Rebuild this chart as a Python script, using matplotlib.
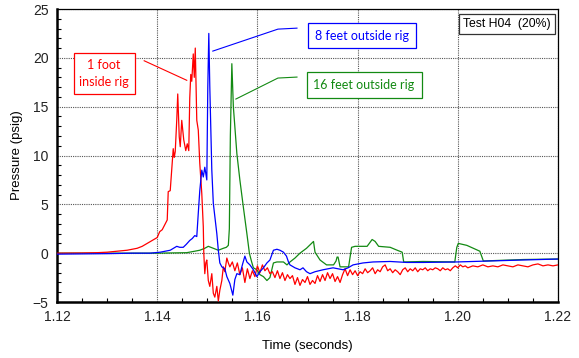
import matplotlib
matplotlib.use("Agg")
import matplotlib.pyplot as plt
from matplotlib.ticker import MultipleLocator, FormatStrFormatter

# ---- data ----
red_t = [1.1200, 1.1250, 1.1280, 1.1300, 1.1320, 1.1340, 1.1360, 1.1370, 1.1380, 1.1390,
         1.1400, 1.1405, 1.1410, 1.1415, 1.1420, 1.1422, 1.1426, 1.1429, 1.1432, 1.1434,
         1.1436, 1.1439, 1.1441, 1.1444, 1.1446, 1.1449, 1.1451, 1.1453, 1.1457, 1.1460,
         1.1463, 1.1465, 1.1467, 1.1469, 1.1472, 1.1474, 1.1476, 1.1479, 1.1482, 1.1485,
         1.1489, 1.1492, 1.1493, 1.1495, 1.1497, 1.1499, 1.1502, 1.1505, 1.1509, 1.1512,
         1.1515, 1.1519, 1.1522, 1.1525, 1.1529, 1.1532, 1.1535, 1.1539, 1.1542,
         1.1545, 1.1550, 1.1555, 1.1560, 1.1565, 1.1570, 1.1575, 1.1580, 1.1585, 1.1590,
         1.1595, 1.1600, 1.1605, 1.1610, 1.1615, 1.1620, 1.1625, 1.1630, 1.1635, 1.1640,
         1.1645, 1.1650, 1.1655, 1.1660, 1.1665, 1.1670, 1.1675, 1.1680, 1.1685, 1.1690,
         1.1695, 1.1700, 1.1705, 1.1710, 1.1715, 1.1720, 1.1725, 1.1730, 1.1735, 1.1740,
         1.1745, 1.1750, 1.1755, 1.1760, 1.1765, 1.1770, 1.1775, 1.1780, 1.1785, 1.1790,
         1.1795, 1.1800, 1.1805, 1.1810, 1.1815, 1.1820, 1.1825, 1.1830, 1.1835, 1.1840,
         1.1845, 1.1850, 1.1855, 1.1860, 1.1865, 1.1870, 1.1875, 1.1880, 1.1885, 1.1890,
         1.1895, 1.1900, 1.1905, 1.1910, 1.1915, 1.1920, 1.1925, 1.1930, 1.1935, 1.1940,
         1.1945, 1.1950, 1.1955, 1.1960, 1.1965, 1.1970, 1.1975, 1.1980, 1.1985, 1.1990,
         1.1995, 1.2000, 1.2005, 1.2010, 1.2015, 1.2020, 1.2030, 1.2040, 1.2050, 1.2060,
         1.2070, 1.2080, 1.2090, 1.2100, 1.2110, 1.2120, 1.2130, 1.2140, 1.2150, 1.2160,
         1.2170, 1.2180, 1.2190, 1.2200]
red_p = [0.0, 0.02, 0.05, 0.1, 0.2, 0.3, 0.5, 0.7, 1.0, 1.3,
         1.6, 2.2, 2.4, 2.9, 3.4, 6.3, 6.4, 8.5, 10.7, 9.8,
         10.4, 13.6, 16.3, 11.9, 10.9, 13.6, 12.6, 11.6, 10.5, 11.2,
         10.5, 15.9, 18.3, 17.6, 20.4, 18.0, 21.0, 13.6, 12.6, 9.2,
         6.1, 2.7, 0.0, -2.1, -1.0, -0.7, -2.8, -3.4, -2.1, -4.1,
         -4.5, -3.4, -4.9, -3.8, -2.8, -1.4, -1.9, -0.5, -1.0,
         -1.4, -0.9, -1.8, -1.0, -2.2, -1.5, -3.0, -1.6, -2.6, -1.8,
         -2.4, -1.3, -2.0, -1.2, -1.8, -1.5, -2.1, -1.9, -2.5, -1.8,
         -2.6, -2.0, -2.8, -2.2, -2.6, -2.3, -3.2, -2.5, -3.3, -2.7,
         -3.0, -2.4, -3.2, -2.8, -3.1, -2.3, -2.9, -2.2, -2.8, -2.0,
         -2.6, -2.1, -2.9, -2.4, -3.0, -2.2, -1.6, -2.3, -1.7, -2.2,
         -1.8, -2.3, -1.9, -2.1, -1.6, -2.0, -1.8, -1.5, -2.1, -1.7,
         -1.9, -1.4, -1.2, -1.8, -1.6, -2.0, -1.7, -1.9, -2.2, -1.7,
         -1.5, -1.9, -1.6, -1.8, -1.5, -1.9, -1.6, -1.7, -1.5, -1.8,
         -1.6, -1.7, -1.5, -1.6, -1.8, -1.5, -1.7, -1.6, -1.8, -1.5,
         -1.3, -1.5, -1.2, -1.4, -1.3, -1.5, -1.3, -1.4, -1.2, -1.4,
         -1.3, -1.4, -1.2, -1.3, -1.4, -1.2, -1.3, -1.4, -1.2, -1.1,
         -1.3, -1.2, -1.3, -1.2]

blue_t = [1.1200, 1.1300, 1.1350, 1.1386, 1.1406, 1.1426, 1.1439, 1.1445, 1.1452, 1.1458,
          1.1465, 1.1470, 1.1475, 1.1479, 1.1482, 1.1485, 1.1489, 1.1492, 1.1495, 1.1499,
          1.1501, 1.1503, 1.1505, 1.1509, 1.1512, 1.1519, 1.1522, 1.1525, 1.1529, 1.1535,
          1.1539, 1.1545, 1.1551, 1.1555, 1.1559, 1.1565, 1.1570, 1.1575, 1.1579, 1.1585,
          1.1592, 1.1599, 1.1605, 1.1612, 1.1619, 1.1625, 1.1632, 1.1639, 1.1645, 1.1652,
          1.1658, 1.1662, 1.1665, 1.1675, 1.1685, 1.1691, 1.1698, 1.1705, 1.1715, 1.1731,
          1.1751, 1.1771, 1.1781, 1.1791, 1.1811, 1.1831, 1.1865, 1.1898, 1.1931, 1.1998,
          1.2064, 1.2130, 1.2200]
blue_p = [-0.1, -0.05, 0.0, 0.0, 0.1, 0.3, 0.7, 0.6, 0.6, 0.9,
          1.3, 1.5, 1.8, 1.7, 4.1, 6.4, 8.5, 7.8, 8.8, 7.5,
          17.0, 22.5, 17.0, 8.5, 5.1, 2.0, 0.3, -1.0, -1.4, -1.6,
          -2.4, -3.1, -4.3, -2.7, -2.1, -2.2, -1.2, -0.3, -0.9, -1.2,
          -1.7, -2.4, -1.9, -1.5, -1.0, -0.7, 0.3, 0.4, 0.3, 0.1,
          -0.3, -0.9, -1.2, -1.5, -1.7, -1.5, -1.9, -2.1, -1.9, -1.7,
          -1.5, -1.7, -1.5, -1.2, -1.0, -0.9, -0.85, -0.95, -0.95, -0.9,
          -0.8, -0.7, -0.6]

green_t = [1.1200, 1.1400, 1.1459, 1.1475, 1.1485, 1.1495, 1.1502, 1.1507, 1.1512, 1.1517,
           1.1522, 1.1527, 1.1532, 1.1538, 1.1542, 1.1544, 1.1546, 1.1549, 1.1552, 1.1559,
           1.1565, 1.1572, 1.1579, 1.1584, 1.1588, 1.1592, 1.1599, 1.1605, 1.1612, 1.1619,
           1.1625, 1.1632, 1.1639, 1.1652, 1.1659, 1.1665, 1.1675, 1.1685, 1.1698, 1.1708,
           1.1712, 1.1715, 1.1725, 1.1738, 1.1752, 1.1757, 1.1759, 1.1761, 1.1765, 1.1782,
           1.1788, 1.1795, 1.1819, 1.1829, 1.1835, 1.1842, 1.1865, 1.1879, 1.1889, 1.1892,
           1.1931, 1.1994, 1.1998, 1.2001, 1.2018, 1.2044, 1.2051, 1.2131, 1.2200]
green_p = [0.0, 0.0, 0.05, 0.2, 0.3, 0.5, 0.7, 0.6, 0.5, 0.4,
           0.3, 0.4, 0.5, 0.6, 0.8, 2.5, 12.0, 19.4, 15.0, 10.2,
           7.5, 4.7, 2.0, 0.0, -0.8, -1.5, -1.7, -2.2, -2.4, -2.8,
           -2.5, -1.0, -0.9, -0.9, -1.2, -0.9, -0.5, 0.0, 0.5, 1.0,
           1.2, 0.1, -0.7, -1.2, -1.2, -0.8, -0.4, -0.4, -1.4, -1.4,
           0.6, 0.7, 0.7, 1.4, 1.2, 0.7, 0.6, 0.3, 0.1, -0.9,
           -0.85, -0.9, 0.6, 1.0, 0.8, 0.2, -0.8, -0.65, -0.6]

x_ticks = [1.12, 1.14, 1.16, 1.18, 1.20, 1.22]
y_ticks = [-5, 0, 5, 10, 15, 20, 25]

RED = "#ff0000"
BLUE = "#0000ff"
GREEN = "#138a13"

fig = plt.figure(figsize=(5.79, 3.58), dpi=100)
ax = fig.add_axes([57/579, 1 - 302/358, 501/579, 293/358])

ax.plot(red_t, red_p, color=RED, lw=0.9, zorder=3)
ax.plot(blue_t, blue_p, color=BLUE, lw=0.9, zorder=4)
ax.plot(green_t, green_p, color=GREEN, lw=0.9, zorder=2)

ax.set_xlim(1.12, 1.22)
ax.set_ylim(-5, 25)
ax.set_xticks(x_ticks)
ax.set_yticks(y_ticks)
ax.xaxis.set_major_formatter(FormatStrFormatter("%.2f"))
ax.xaxis.set_minor_locator(MultipleLocator(0.005))
ax.yaxis.set_minor_locator(MultipleLocator(1))
ax.tick_params(which="both", direction="in", top=False, right=False,
               labelsize=10, pad=6, labelcolor="#222222")
ax.tick_params(which="major", length=0)
ax.tick_params(which="minor", length=3, width=0.8)
for lab in ax.get_xticklabels() + ax.get_yticklabels():
    lab.set_fontfamily("Liberation Sans")

ax.grid(True, which="major", linestyle=(0, (1, 1)), color="#555555", lw=0.8)
ax.set_axisbelow(True)
for side in ["left", "bottom"]:
    ax.spines[side].set_linewidth(1.8)
for side in ["top", "right"]:
    ax.spines[side].set_linewidth(0.9)

ax.set_xlabel("Time (seconds)", fontsize=9.5, family="Liberation Sans", labelpad=11)
ax.set_ylabel("Pressure (psig)", fontsize=9.5, family="Liberation Sans", labelpad=7)

# annotations
ax.plot([1.1374, 1.1459], [19.7, 17.7], color=RED, lw=0.8)
ax.text(1.1294, 18.4, "1 foot\ninside rig", color=RED, fontsize=9, family="Lato",
        ha="center", va="center", linespacing=1.5,
        bbox=dict(boxstyle="square,pad=0.45", fc="white", ec=RED, lw=0.9))

ax.plot([1.1511, 1.1641, 1.1679], [20.69, 22.94, 23.04], color=BLUE, lw=0.8)
ax.text(1.1809, 22.28, "8 feet outside rig", color=BLUE, fontsize=9, family="Lato",
        ha="center", va="center",
        bbox=dict(boxstyle="square,pad=0.55", fc="white", ec=BLUE, lw=0.9))

ax.plot([1.1557, 1.1641, 1.1679], [15.78, 17.93, 18.03], color=GREEN, lw=0.8)
ax.text(1.1813, 17.2, "16 feet outside rig", color=GREEN, fontsize=9, family="Lato",
        ha="center", va="center",
        bbox=dict(boxstyle="square,pad=0.55", fc="white", ec=GREEN, lw=0.9))

ax.text(1.2098, 23.45, "Test H04  (20%)", color="black", fontsize=8.8,
        family="Liberation Sans", ha="center", va="center",
        bbox=dict(boxstyle="square,pad=0.35", fc="white", ec="#333333", lw=0.9))

fig.savefig("out.png", dpi=100)
